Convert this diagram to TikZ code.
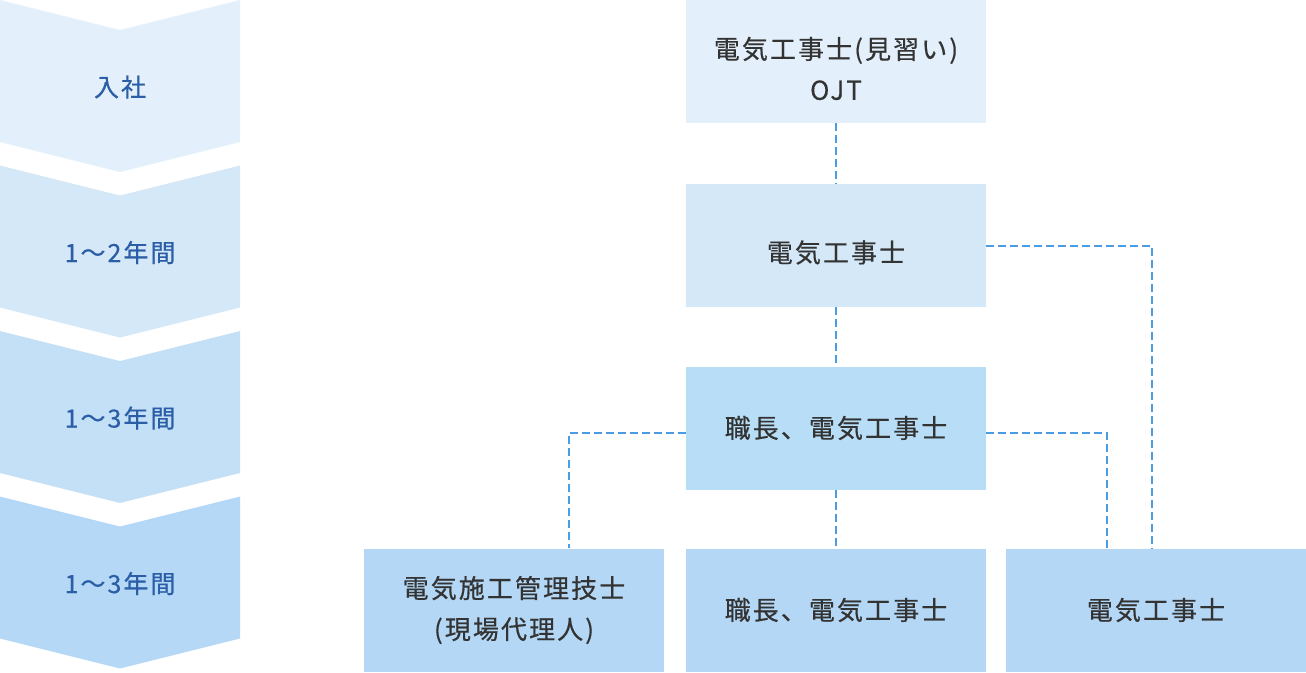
\documentclass[tikz,border=0pt]{standalone}
\usepackage{fontspec}
\setmainfont[LetterSpace=8, FakeBold=0.5]{Noto Sans CJK JP}
\usetikzlibrary{calc}
\definecolor{chevone}{HTML}{E3F0FB}
\definecolor{chevtwo}{HTML}{D4E8F8}
\definecolor{chevthree}{HTML}{C3E0F6}
\definecolor{chevfour}{HTML}{B4D8F5}
\definecolor{boxthree}{HTML}{B8DEF7}
\definecolor{boxfour}{HTML}{B3D7F5}
\definecolor{periodblue}{HTML}{2B5EA7}
\definecolor{textgray}{HTML}{333333}
\definecolor{linkblue}{HTML}{4A9DE3}
\tikzstyle{stage} = [rectangle, minimum width=300pt, minimum height=123pt, inner sep=0pt, align=center, text=textgray, font=\fontsize{26}{41}\selectfont]
\tikzstyle{period} = [text=periodblue, font=\fontsize{25}{30}\selectfont]
\tikzstyle{link} = [line width=2pt, dash pattern=on 8pt off 4pt, color=linkblue]
\newcommand{\lowered}[1]{\raisebox{-7pt}[\height][\depth]{#1}}

\begin{document}
\begin{tikzpicture}[x=1pt, y=-1pt]
\useasboundingbox (0,0) rectangle (1306,672);

% Period chevrons
\foreach \i/\col/\txt in {0/chevone/入社, 1/chevtwo/1〜2年間, 2/chevthree/1〜3年間, 3/chevfour/1〜3年間}{
  \pgfmathsetmacro\y{\i*165.5}
  \fill[\col] (0,\y) -- (120,\y+30) -- (240,\y) -- (240,\y+142) -- (120,\y+172) -- (0,\y+142) -- cycle;
  \node[period] (p\i) at (120,\y+87) {\txt};
}

% Career boxes
\node[stage, fill=chevone] (ojt) at (836,61.5) {\lowered{電気工事士(見習い)}\\\lowered{OJT}};
\node[stage, fill=chevtwo] (eng) at (836,245.5) {\lowered{電気工事士}};
\node[stage, fill=boxthree] (chief) at (836,428) {職長、電気工事士};
\node[stage, fill=boxfour] (mgr) at (514,610) {電気施工管理技士\\(現場代理人)};
\node[stage, fill=boxfour] (chief2) at (836,610) {職長、電気工事士};
\node[stage, fill=boxfour] (eng2) at (1156,610) {電気工事士};

% Links
\draw[link] (ojt) -- (eng);
\draw[link] (eng) -- (chief);
\draw[link] (chief) -- (chief2);
\draw[link] (eng.east) -| ([xshift=-4pt]eng2.north);
\draw[link] ([yshift=-5pt]chief.west) -| ([xshift=55pt]mgr.north);
\draw[link] ([yshift=-5pt]chief.east) -| ([xshift=-49pt]eng2.north);

\end{tikzpicture}
\end{document}
